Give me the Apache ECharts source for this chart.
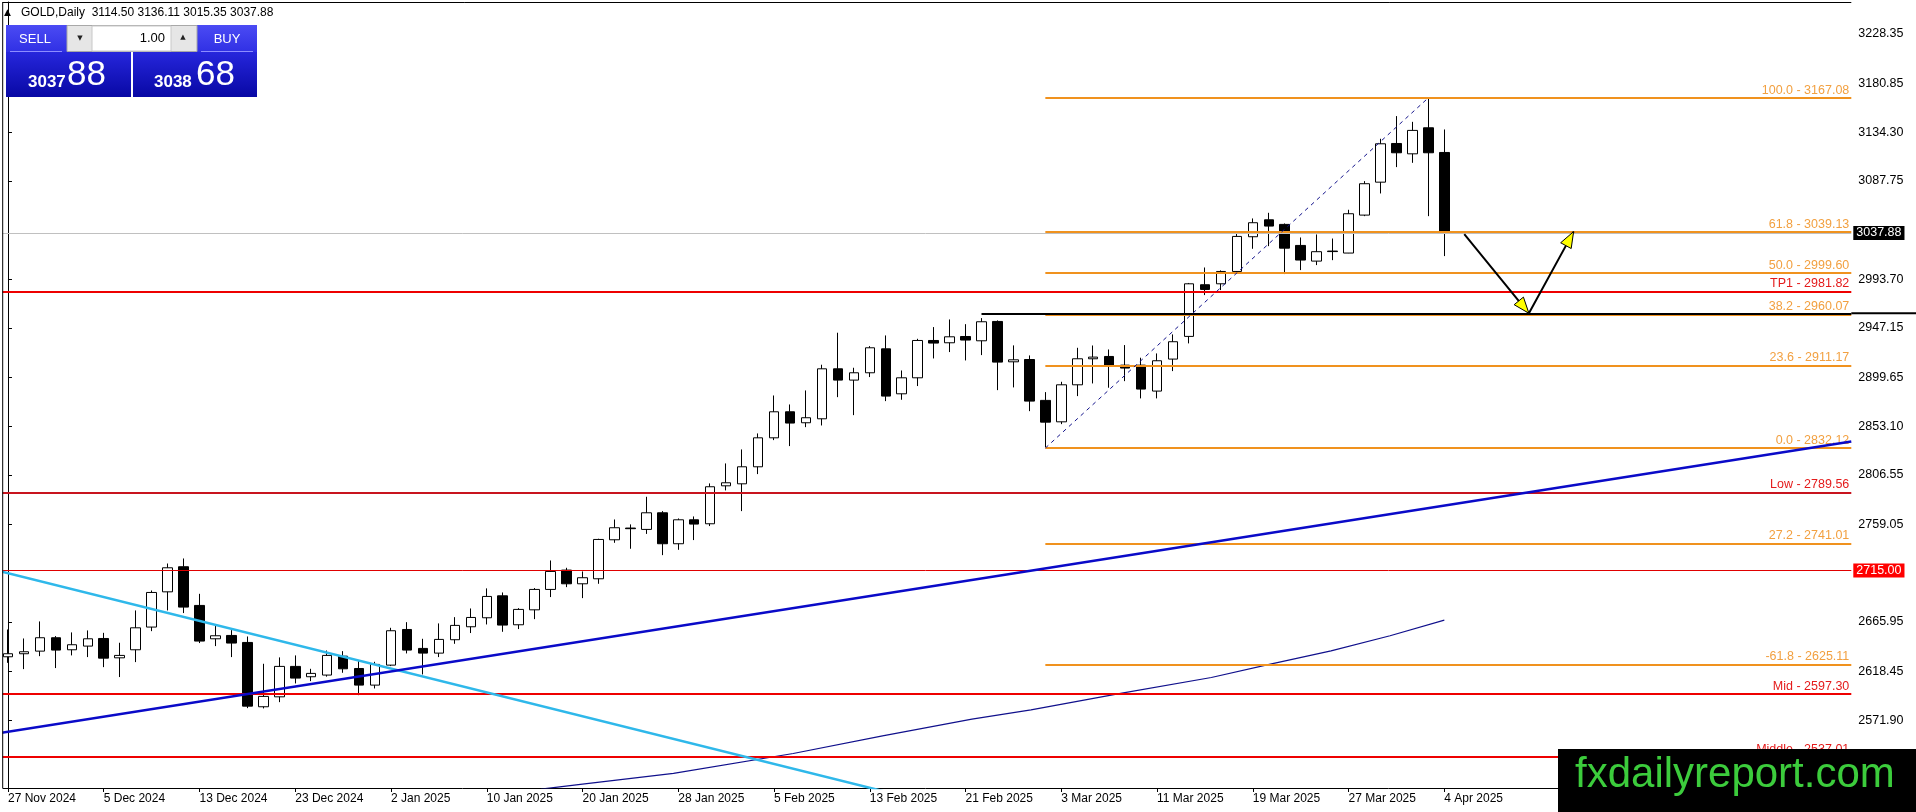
<!DOCTYPE html>
<html>
<head>
<meta charset="utf-8">
<script src="https://cdn.jsdelivr.net/npm/echarts@6/dist/echarts.min.js"></script>
<style>
html,body{margin:0;padding:0;background:#fff;}
#c{width:1916px;height:812px;}
</style>
</head>
<body>
<div id="c"></div>
<script>
// ---- DATA ----
const dateLabels = ['27 Nov 2024','5 Dec 2024','13 Dec 2024','23 Dec 2024','2 Jan 2025','10 Jan 2025','20 Jan 2025','28 Jan 2025','5 Feb 2025','13 Feb 2025','21 Feb 2025','3 Mar 2025','11 Mar 2025','19 Mar 2025','27 Mar 2025','4 Apr 2025'];
const barsPerLabel = 6;
const totalSlots = 116;

const opens  = [2632.5,2635.4,2637.9,2650.7,2639.2,2642.7,2650.0,2631.5,2639.2,2660.9,2694.6,2718.6,2681.6,2649.7,2652.9,2646.2,2584.7,2594.2,2623.3,2613.4,2615.0,2633.1,2621.3,2605.4,2624.5,2658.6,2640.5,2636.0,2648.8,2661.2,2669.8,2690.8,2663.1,2677.4,2696.9,2715.4,2702.3,2707.1,2744.4,2755.6,2754.3,2770.2,2740.6,2763.5,2759.7,2796.0,2797.9,2814.2,2841.9,2866.8,2856.3,2860.1,2907.9,2897.1,2904.1,2927.0,2884.0,2899.3,2935.0,2932.8,2938.8,2934.7,2953.2,2914.6,2916.8,2877.7,2857.2,2892.6,2917.5,2919.7,2911.4,2911.4,2886.6,2917.2,2938.9,2988.3,2989.2,3001.0,3034.2,3050.4,3046.0,3025.9,3010.9,3020.5,3018.6,3054.9,3086.4,3123.4,3113.5,3138.4,3114.8];
const highs  = [2658.6,2650.0,2666.3,2652.3,2655.8,2657.7,2655.4,2645.9,2676.8,2695.9,2721.7,2726.5,2692.7,2662.5,2658.0,2651.9,2625.8,2631.9,2633.8,2621.0,2638.5,2637.9,2628.4,2627.7,2660.2,2665.6,2649.7,2664.4,2670.4,2678.7,2697.9,2694.0,2679.0,2698.2,2724.6,2717.6,2714.1,2745.4,2763.8,2759.1,2785.5,2771.8,2764.8,2766.7,2798.3,2817.4,2830.8,2846.1,2882.4,2873.8,2887.2,2911.8,2942.4,2908.9,2929.6,2939.8,2906.3,2936.6,2947.8,2955.1,2950.6,2956.4,2954.2,2930.3,2920.7,2885.6,2895.5,2928.0,2930.2,2926.4,2930.6,2918.5,2922.6,2940.8,2990.0,3004.8,3002.0,3038.0,3051.7,3057.1,3046.9,3033.5,3036.4,3032.5,3060.0,3087.4,3127.9,3149.6,3144.1,3167.7,3136.8];
const lows   = [2626.7,2620.7,2633.1,2621.7,2633.8,2632.2,2622.6,2613.1,2627.4,2657.0,2676.8,2674.3,2645.6,2642.7,2632.2,2583.4,2583.1,2589.1,2607.0,2609.2,2613.5,2617.2,2595.8,2602.2,2623.6,2635.7,2615.6,2632.2,2644.9,2655.2,2663.4,2656.4,2659.0,2668.5,2689.6,2699.1,2688.6,2702.3,2741.5,2735.8,2750.0,2729.7,2734.8,2744.1,2757.5,2791.6,2771.8,2807.2,2839.7,2834.0,2852.1,2853.7,2880.8,2863.6,2900.0,2877.0,2878.3,2891.4,2917.8,2923.9,2915.9,2921.0,2887.5,2890.1,2867.4,2833.0,2855.0,2881.8,2893.9,2889.8,2896.1,2879.6,2879.6,2905.7,2932.2,2978.4,2983.2,3000.5,3022.7,3025.2,2998.5,3002.3,3007.1,3011.8,3018.5,3053.9,3075.6,3100.8,3104.9,3053.9,3015.7];
const closes = [2635.4,2637.3,2650.7,2638.9,2644.0,2649.7,2631.2,2633.8,2660.2,2694.0,2717.6,2680.0,2647.5,2652.6,2645.6,2585.3,2594.6,2623.3,2612.1,2616.6,2633.8,2621.0,2605.4,2625.2,2657.4,2638.9,2636.0,2649.1,2662.5,2670.1,2690.2,2662.8,2677.8,2696.9,2714.1,2702.3,2708.1,2744.7,2755.9,2755.0,2770.2,2740.6,2763.5,2759.4,2795.1,2798.9,2814.2,2841.9,2866.8,2856.0,2861.1,2907.9,2897.1,2904.1,2928.0,2881.8,2899.3,2935.0,2932.5,2938.5,2935.4,2952.9,2914.3,2916.5,2877.0,2856.9,2892.6,2917.5,2919.1,2911.1,2908.6,2888.5,2915.6,2933.8,2989.2,2983.8,3001.0,3034.5,3047.6,3044.4,3023.3,3011.9,3019.9,3020.0,3056.2,3084.9,3123.1,3114.5,3135.9,3114.5,3038.0];

const priceTicks = [3228.35,3180.85,3134.30,3087.75,2993.70,2947.15,2899.65,2853.10,2806.55,2759.05,2665.95,2618.45,2571.90];
const priceTickText = ['3228.35','3180.85','3134.30','3087.75','2993.70','2947.15','2899.65','2853.10','2806.55','2759.05','2665.95','2618.45','2571.90'];

const fibNames  = ['100.0','61.8','50.0','38.2','23.6','0.0','27.2','-61.8'];
const fibValues = [3167.08,3039.13,2999.60,2960.07,2911.17,2832.12,2741.01,2625.11];
const fibStartBar = 65;
const fibHighBar = 89;

const redNames  = ['TP1','Low','Mid','Middle'];
const redValues = [2981.82,2789.56,2597.30,2537.01];

const levelBox = 2715.00;
const bidPrice = 3037.88;
const blackLevel = 2961.0;
const blackStartBar = 61;

const cyanLine = [[-0.5, 2714.4],[55, 2503.4]];
const blueLine = [[-0.5, 2559.6],[115.5, 2838.4]];
const maCurve  = [[33.4,2505.9],[36.0,2510.7],[41.7,2520.9],[49.2,2540.0],[54.8,2556.9],[60.4,2572.9],[64.1,2581.8],[69.8,2597.7],[75.4,2612.7],[79.1,2625.5],[82.9,2638.2],[86.6,2652.6],[90.0,2667.6]];
const arrowPath = [[91.25,3036.6],[95.3,2961.0],[98.1,3039.1]];

const header = 'GOLD,Daily  3114.50 3136.11 3015.35 3037.88';

// ---- CHART ----
const FONT = '"Liberation Sans", "DejaVu Sans", sans-serif';
const chart = echarts.init(document.getElementById('c'), null, {renderer:'canvas'});

const categories = Array.from({length: totalSlots}, (_, i) => String(i));
const showLabel = (idx) => idx % barsPerLabel === 0 && idx / barsPerLabel < dateLabels.length;
const candleData = opens.map((o, i) => [o, closes[i], lows[i], highs[i]]);
const tickText = (v) => {
  let best = 0;
  priceTicks.forEach((t, i) => { if (Math.abs(t - v) < Math.abs(priceTicks[best] - v)) best = i; });
  return priceTickText[best];
};

const orange = '#f0921e';
const orangeText = '#f2a040';
const markData = [];
markData.push([{coord:[-0.5,bidPrice], lineStyle:{color:'#c0c0c0',width:1,type:'solid'}, label:{show:true,position:'end',formatter:bidPrice.toFixed(2),color:'#fff',backgroundColor:'#000',padding:[1,3,0,3],distance:2,fontSize:12.5,fontFamily:FONT}},{coord:[115.5,bidPrice]}]);
markData.push([{coord:[-0.5,levelBox], lineStyle:{color:'#e00000',width:1,type:'solid'}, label:{show:true,position:'end',formatter:levelBox.toFixed(2),color:'#fff',backgroundColor:'#ff0000',padding:[1,3,0,3],distance:2,fontSize:12.5,fontFamily:FONT}},{coord:[115.5,levelBox]}]);
redNames.forEach((n, i) => {
  markData.push([{coord:[-0.5,redValues[i]], lineStyle:{color: n==='Low' ? '#c8141e' : '#ee0000', width:2, type:'solid'}, label:{show:true,position:'insideEndTop',formatter:n+' - '+redValues[i].toFixed(2),color:'#e41b1b',fontSize:12.5,fontFamily:FONT,distance:[2,1]}},{coord:[115.5,redValues[i]]}]);
});
fibNames.forEach((n, i) => {
  markData.push([{coord:[fibStartBar,fibValues[i]], lineStyle:{color:orange,width:2,type:'solid'}, label:{show:true,position:'insideEndTop',formatter:n+' - '+fibValues[i].toFixed(2),color:orangeText,fontSize:12.5,fontFamily:FONT,distance:[2,1]}},{coord:[115.5,fibValues[i]]}]);
});
markData.push([{coord:[blackStartBar,blackLevel], lineStyle:{color:'#000',width:2,type:'solid'}, label:{show:false}},{coord:[115.5,blackLevel]}]);

const option = {
  animation:false,
  backgroundColor:'#fff',
  grid:{left:-4.7, right:64.7, top:2, bottom:24, containLabel:false},
  xAxis:[
    {type:'category', data:categories, boundaryGap:true,
     axisLine:{show:true,lineStyle:{color:'#000',width:1}},
     axisTick:{show:true,alignWithLabel:true,length:4,interval:(idx)=>showLabel(idx),lineStyle:{color:'#000'}},
     axisLabel:{show:true,interval:(idx)=>showLabel(idx),formatter:(v,idx)=> showLabel(+v) ? dateLabels[(+v)/barsPerLabel] : '',
       align:'left',margin:5,color:'#000',fontSize:12,fontFamily:FONT},
     splitLine:{show:false}},
    {type:'value', min:-0.5, max:115.5, show:false, gridIndex:0}
  ],
  yAxis:[{type:'value', position:'right', min:2507.0, max:3258.7, scale:true,
     axisLine:{show:true,lineStyle:{color:'#000',width:1}},
     axisTick:{show:true,length:4,customValues:priceTicks,lineStyle:{color:'#000'}},
     axisLabel:{show:true,customValues:priceTicks,formatter:(v)=>tickText(v),margin:7,color:'#000',fontSize:12.5,fontFamily:FONT},
     splitLine:{show:false}}],
  series:[
    {type:'candlestick', xAxisIndex:0, yAxisIndex:0, data:candleData, barWidth:10, clip:true,
     itemStyle:{color:'#fff',color0:'#000',borderColor:'#000',borderColor0:'#000',borderWidth:1}, z:2},
    {type:'line', xAxisIndex:1, data:maCurve, symbol:'none', lineStyle:{color:'#10108c',width:1.2}, z:3, silent:true},
    {type:'line', xAxisIndex:1, data:[], symbol:'none', z:4, silent:true,
     markLine:{symbol:['none','none'], silent:true, lineStyle:{type:'solid'}, data:markData, animation:false}},
    {type:'line', xAxisIndex:1, data:cyanLine, symbol:'none', lineStyle:{color:'#2fb8ea',width:2.5}, z:5, silent:true},
    {type:'line', xAxisIndex:1, data:blueLine, symbol:'none', lineStyle:{color:'#0a0ac8',width:2.5}, z:5, silent:true},
    {type:'line', xAxisIndex:1, data:[[fibStartBar,fibValues[5]],[fibHighBar,fibValues[0]]], symbol:'none', lineStyle:{color:'#14148c',width:1,type:[4,4]}, z:5, silent:true},
    {type:'line', xAxisIndex:1, data:arrowPath, symbol:'none', lineStyle:{color:'#000',width:2}, z:6, silent:true, clip:false}
  ]
};
chart.setOption(option);

// ---- overlays computed through the scales ----
const els = [];
const xRight = chart.convertToPixel({xAxisIndex:1}, 115.5);
const yBlack = chart.convertToPixel({yAxisIndex:0}, blackLevel);
els.push({type:'line', z:50, shape:{x1:xRight, y1:yBlack, x2:1916, y2:yBlack}, style:{stroke:'#000', lineWidth:2}});

function arrowHead(from, to){
  const a = chart.convertToPixel({xAxisIndex:1,yAxisIndex:0}, from);
  const b = chart.convertToPixel({xAxisIndex:1,yAxisIndex:0}, to);
  const dx = b[0]-a[0], dy = b[1]-a[1], L = Math.hypot(dx,dy);
  const ux = dx/L, uy = dy/L, nx = -uy, ny = ux;
  const len = 16, hw = 6;
  const bx = b[0]-ux*len, by = b[1]-uy*len;
  return {type:'polygon', z:60, shape:{points:[[b[0],b[1]],[bx+nx*hw,by+ny*hw],[bx-nx*hw,by-ny*hw]]}, style:{fill:'#ffff00', stroke:'#000', lineWidth:1}};
}
els.push(arrowHead(arrowPath[0], arrowPath[1]));
els.push(arrowHead(arrowPath[1], arrowPath[2]));

// frame
els.push({type:'rect', z:70, shape:{x:0,y:0,width:2.5,height:790}, style:{fill:'#fff'}});
els.push({type:'line', z:71, shape:{x1:2.7,y1:2,x2:2.7,y2:788}, style:{stroke:'#000',lineWidth:1}});
els.push({type:'line', z:71, shape:{x1:2.7,y1:2.5,x2:xRight,y2:2.5}, style:{stroke:'#000',lineWidth:1}});

// header
els.push({type:'text', z:80, style:{text:'▲', x:4, y:13, fill:'#000', font:'9px "DejaVu Sans"', verticalAlign:'middle', textVerticalAlign:'middle'}});
els.push({type:'text', z:80, style:{text:header, x:21, y:13, fill:'#000', font:'12px '+FONT, verticalAlign:'middle', textVerticalAlign:'middle'}});

// trade panel
const G = echarts.graphic.LinearGradient;
els.push({type:'rect', z:80, shape:{x:6,y:25,width:61,height:27}, style:{fill:new G(0,0,0,1,[{offset:0,color:'#4b4bf4'},{offset:1,color:'#3030e4'}])}});
els.push({type:'rect', z:80, shape:{x:197,y:25,width:60,height:27}, style:{fill:new G(0,0,0,1,[{offset:0,color:'#4b4bf4'},{offset:1,color:'#3030e4'}])}});
els.push({type:'rect', z:80, shape:{x:6,y:52,width:125,height:45}, style:{fill:new G(0,0,0,1,[{offset:0,color:'#2626dc'},{offset:1,color:'#0808a4'}])}});
els.push({type:'rect', z:80, shape:{x:133,y:52,width:124,height:45}, style:{fill:new G(0,0,0,1,[{offset:0,color:'#2626dc'},{offset:1,color:'#0808a4'}])}});
els.push({type:'rect', z:81, shape:{x:67,y:25.5,width:130,height:26}, style:{fill:'#e6e6e6', stroke:'#a8a8a8', lineWidth:1}});
els.push({type:'rect', z:82, shape:{x:92,y:26,width:79,height:25}, style:{fill:'#fff', stroke:'#c8c8c8', lineWidth:1}});
els.push({type:'text', z:83, style:{text:'▼', x:80, y:38.5, fill:'#222', font:'7px "DejaVu Sans"', align:'center', textAlign:'center', verticalAlign:'middle', textVerticalAlign:'middle'}});
els.push({type:'text', z:83, style:{text:'▲', x:183, y:37.5, fill:'#222', font:'7px "DejaVu Sans"', align:'center', textAlign:'center', verticalAlign:'middle', textVerticalAlign:'middle'}});
els.push({type:'text', z:83, style:{text:'1.00', x:165, y:38.5, fill:'#000', font:'13px '+FONT, align:'right', textAlign:'right', verticalAlign:'middle', textVerticalAlign:'middle'}});
els.push({type:'line', z:83, shape:{x1:10,y1:51.5,x2:62,y2:51.5}, style:{stroke:'#8c8cff',lineWidth:1}});
els.push({type:'line', z:83, shape:{x1:201,y1:51.5,x2:253,y2:51.5}, style:{stroke:'#8c8cff',lineWidth:1}});
els.push({type:'text', z:83, style:{text:'SELL', x:35, y:39, fill:'#fff', font:'13px '+FONT, align:'center', textAlign:'center', verticalAlign:'middle', textVerticalAlign:'middle'}});
els.push({type:'text', z:83, style:{text:'BUY', x:227, y:39, fill:'#fff', font:'13px '+FONT, align:'center', textAlign:'center', verticalAlign:'middle', textVerticalAlign:'middle'}});
els.push({type:'text', z:83, style:{text:'3037', x:28, y:82, fill:'#fff', font:'bold 17px '+FONT, verticalAlign:'middle', textVerticalAlign:'middle'}});
els.push({type:'text', z:83, style:{text:'88', x:67, y:75, fill:'#fff', font:'35px '+FONT, verticalAlign:'middle', textVerticalAlign:'middle'}});
els.push({type:'text', z:83, style:{text:'3038', x:154, y:82, fill:'#fff', font:'bold 17px '+FONT, verticalAlign:'middle', textVerticalAlign:'middle'}});
els.push({type:'text', z:83, style:{text:'68', x:196, y:75, fill:'#fff', font:'35px '+FONT, verticalAlign:'middle', textVerticalAlign:'middle'}});

// watermark
els.push({type:'rect', z:90, shape:{x:1558,y:749,width:358,height:63}, style:{fill:'#000'}});
els.push({type:'text', z:91, style:{text:'fxdailyreport.com', x:1575, y:775.5, fill:'#3ccc3c', font:'42px '+FONT, verticalAlign:'middle', textVerticalAlign:'middle'}});

chart.setOption({graphic:{elements:els}});
</script>
</body>
</html>
